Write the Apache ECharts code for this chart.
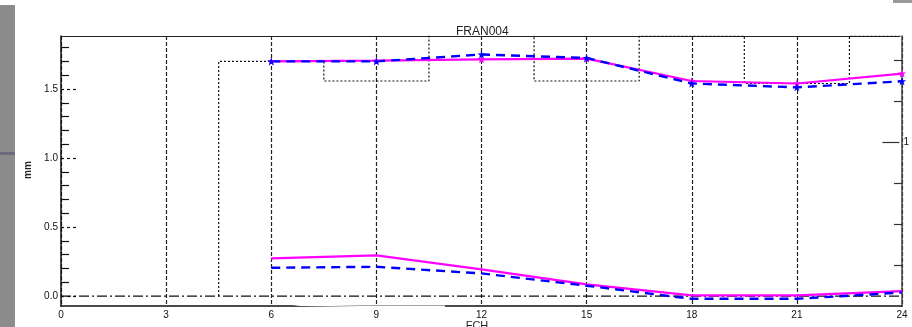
<!DOCTYPE html>
<html>
<head>
<meta charset="utf-8">
<script src="https://cdn.jsdelivr.net/npm/echarts@6/dist/echarts.min.js"></script>
<style>
html,body{margin:0;padding:0;background:#fff;}
#c{width:912px;height:327px;}
</style>
</head>
<body>
<div id="c"></div>
<script>
// ---- data ----
const titleText = 'FRAN004';
const xLabelName = 'FCH';
const yLabelName = 'mm';
const fchPoints = [6, 9, 12, 15, 18, 21, 24];
const upperMagenta = [1.70, 1.705, 1.715, 1.72, 1.558, 1.54, 1.612];
const upperBlue = [1.70, 1.70, 1.75, 1.725, 1.54, 1.512, 1.556];
const lowerMagenta = [0.273, 0.295, 0.193, 0.085, 0.005, 0.005, 0.036];
const lowerBlue = [0.205, 0.212, 0.164, 0.075, -0.02, -0.02, 0.026];
const stepX = [4.5, 7.5, 10.5, 13.5, 16.5, 19.5, 22.5, 24];
const stepY = [0, 1.70, 1.558, 2.0, 1.558, 1.884, 1.54, 1.884];
const zeroX = [0, 24];
const zeroY = [0, 0];
const xTicks = [0, 3, 6, 9, 12, 15, 18, 21, 24];
const yMinorTicks = [0.1, 0.2, 0.3, 0.4, 0.6, 0.7, 0.8, 0.9, 1.1, 1.2, 1.3, 1.4, 1.6, 1.7, 1.8];
const yMajorTicks = [0, 0.5, 1.0, 1.5];
const rightTicks = [0.25, 0.5, 0.75, 1.25, 1.5];
const rightMajor = [1];

const pair = (xs, ys) => xs.map((x, i) => [x, ys[i]]);
const star = 'path://M0,-10 L2.4,-3.2 L9.5,-3.1 L3.8,1.2 L5.9,8.1 L0,4 L-5.9,8.1 L-3.8,1.2 L-9.5,-3.1 L-2.4,-3.2 Z';
const FONT = 'Liberation Sans';
const G = {left: 61, right: 10, top: 36, bottom: 21, containLabel: false};

const chart = echarts.init(document.getElementById('c'), null, {renderer: 'canvas'});
chart.setOption({
  animation: false,
  backgroundColor: '#fff',
  title: {
    text: titleText, left: 451, top: 21,
    textStyle: {fontFamily: FONT, fontSize: 12, fontWeight: 'normal', color: '#222'}
  },
  grid: [Object.assign({}, G), Object.assign({}, G)],
  xAxis: [{
    gridIndex: 0, type: 'value', min: 0, max: 24, interval: 3, position: 'bottom',
    axisLine: {show: true, onZero: false, lineStyle: {color: '#111', width: 1.5}},
    axisTick: {show: false},
    axisLabel: {show: true, margin: 4, fontFamily: FONT, fontSize: 10, color: '#111',
      customValues: xTicks},
    splitLine: {show: true, lineStyle: {color: '#222', width: 1.2, type: [4, 2]}}
  }, {
    gridIndex: 1, type: 'value', min: 0, max: 24, position: 'top',
    axisLine: {show: true, onZero: false, lineStyle: {color: '#222', width: 1}},
    axisTick: {show: false}, axisLabel: {show: false}, splitLine: {show: false}
  }],
  yAxis: [{
    gridIndex: 0, type: 'value', min: -0.072, max: 1.884, position: 'left',
    axisLine: {show: true, onZero: false, lineStyle: {color: '#111', width: 1.5}},
    axisTick: {show: true, inside: true, length: 8, customValues: yMinorTicks,
      lineStyle: {color: '#111', width: 1.2}},
    axisLabel: {show: false},
    splitLine: {show: false}
  }, {
    gridIndex: 0, type: 'value', min: 0, max: 1.65, position: 'right',
    axisLine: {show: true, onZero: false, lineStyle: {color: '#444', width: 1.5}},
    axisTick: {show: true, inside: true, length: 8, customValues: rightTicks,
      lineStyle: {color: '#333', width: 1.2}},
    axisLabel: {show: false},
    splitLine: {show: false}
  }, {
    gridIndex: 1, type: 'value', min: -0.072, max: 1.884, position: 'left',
    axisLine: {show: false},
    axisTick: {show: true, inside: true, length: 16, customValues: yMajorTicks,
      lineStyle: {color: '#111', width: 1.2, type: [3, 3]}},
    axisLabel: {show: true, margin: 3, fontFamily: FONT, fontSize: 10, color: '#111',
      customValues: yMajorTicks, formatter: v => v.toFixed(1)},
    splitLine: {show: false}
  }, {
    gridIndex: 1, type: 'value', min: 0, max: 1.65, position: 'right',
    axisLine: {show: false},
    axisTick: {show: true, inside: true, length: 17, customValues: rightMajor,
      lineStyle: {color: '#333', width: 1.2}},
    axisLabel: {show: true, margin: 4, fontFamily: FONT, fontSize: 10, color: '#111',
      customValues: rightMajor},
    splitLine: {show: false}
  }],
  series: [{
    type: 'line', name: 'zero', data: pair(zeroX, zeroY), symbol: 'none', silent: true,
    lineStyle: {color: '#111', width: 1.3, type: [10, 3, 2, 3]}
  }, {
    type: 'line', name: 'obs', data: pair(stepX, stepY), step: 'start', symbol: 'none', silent: true,
    lineStyle: {color: '#111', width: 1.2, type: [2, 2]}
  }, {
    type: 'line', name: 'upperM', data: pair(fchPoints, upperMagenta),
    symbol: star, symbolSize: 8, itemStyle: {color: '#ff00ff'},
    lineStyle: {color: '#ff00ff', width: 2.2}
  }, {
    type: 'line', name: 'lowerM', data: pair(fchPoints, lowerMagenta), symbol: 'none',
    lineStyle: {color: '#ff00ff', width: 2.2}
  }, {
    type: 'line', name: 'upperB', data: pair(fchPoints, upperBlue),
    symbol: star, symbolSize: 8, itemStyle: {color: '#0000ff'},
    lineStyle: {color: '#0000ff', width: 2.4, type: [9, 6]}
  }, {
    type: 'line', name: 'lowerB', data: pair(fchPoints, lowerBlue), symbol: 'none',
    lineStyle: {color: '#0000ff', width: 2.4, type: [9, 6]}
  }],
  graphic: [
    {type: 'rect', shape: {x: 0, y: 5, width: 15, height: 322}, style: {fill: '#8c8c8c'}, silent: true},
    {type: 'rect', shape: {x: 0, y: 152, width: 15, height: 3}, style: {fill: '#6a6a80'}, silent: true},
    {type: 'rect', shape: {x: 893, y: 0, width: 19, height: 3}, style: {fill: '#9a9a9a'}, silent: true},
    {type: 'polyline', shape: {points: [[284, 303], [300, 305.3], [360, 306.2], [445, 306.3]]},
      style: {stroke: '#fff', lineWidth: 1.6, fill: null}, silent: true, z: 100},
    {type: 'text', x: 28, y: 170, rotation: Math.PI / 2, silent: true,
      style: {text: yLabelName, fontFamily: FONT, fontSize: 10, fontWeight: 'bold', fill: '#222',
        textAlign: 'center', textVerticalAlign: 'middle'}},
    {type: 'text', x: 477, y: 320, silent: true,
      style: {text: xLabelName, fontFamily: FONT, fontSize: 11, fill: '#222',
        textAlign: 'center', textVerticalAlign: 'top'}}
  ]
});
</script>
</body>
</html>
